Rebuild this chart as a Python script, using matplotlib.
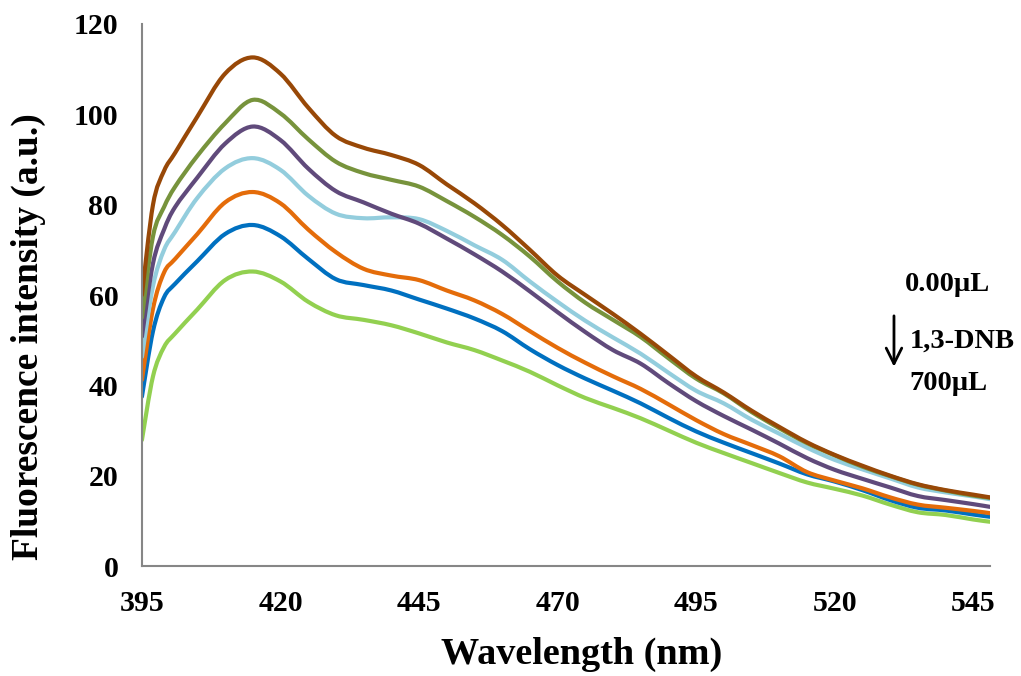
import matplotlib
matplotlib.use('Agg')
from matplotlib import pyplot as plt
from matplotlib.path import Path
from matplotlib.patches import PathPatch

wavelength = [395, 397, 399, 401, 405, 410, 415, 420, 425, 430, 435, 440, 445,
              450, 455, 460, 465, 470, 475, 480, 485, 490, 495, 500, 505, 510,
              515, 520, 525, 530, 535, 540, 545, 548]

# series from 0.00 uL (top) down to 700 uL (bottom)
s_brown = [60, 80, 87.5, 91.5, 99.5, 109, 112.6, 109, 101.5, 95.2, 92.6, 91, 88.8,
           84.5, 80.3, 75.5, 70, 64.3, 60, 55.8, 51.4, 46.7, 42, 38.4, 34.4, 30.8,
           27.4, 24.6, 22.2, 20.0, 18.1, 16.8, 15.8, 15.2]
s_olive = [55, 73, 79.5, 84, 90.8, 98, 103.2, 100.2, 94.5, 89.5, 87, 85.5, 84,
           80.8, 77.3, 73.3, 68.5, 63, 58.3, 54.5, 50.7, 46, 41.5, 38.2, 34.1, 30.5,
           27.2, 24.5, 22.0, 19.9, 18.0, 16.7, 15.6, 15.1]
s_purple = [50.8, 67, 74.5, 79.5, 86, 93.5, 97.3, 94.3, 88, 83, 80.5, 78, 75.8,
            72.5, 69, 65.2, 60.8, 56.2, 51.8, 47.8, 44.8, 40.5, 36.5, 33.2, 30.2, 27.1,
            23.9, 21.3, 19.3, 17.4, 15.5, 14.6, 13.7, 13.1]
s_lightblue = [46.3, 62, 70, 74, 81.5, 88, 90.3, 87.7, 82, 78, 77, 77.2, 76.8,
               74.2, 71, 67.8, 63, 58.5, 54.3, 50.6, 47, 42.8, 38.8, 36, 32.4, 29.3,
               26.2, 23.5, 21.4, 19.4, 17.4, 16.3, 15.4, 14.8]
s_orange = [41.2, 57, 65, 68, 73.5, 80.5, 82.8, 80.3, 74.5, 69.5, 65.8, 64.3, 63.3,
            61, 58.8, 55.8, 52, 48.3, 45, 42, 39.2, 35.8, 32.3, 29.2, 26.8, 24.3,
            20.8, 18.9, 17.2, 15.2, 13.6, 12.9, 12.2, 11.7]
s_blue = [37.5, 52, 59.5, 62.5, 67.5, 73.5, 75.5, 73, 68, 63.5, 62.2, 61, 59,
          57, 54.8, 52, 48, 44.5, 41.5, 38.8, 36, 32.8, 29.8, 27.3, 25, 22.7,
          20.3, 18.7, 16.8, 14.6, 12.9, 12.3, 11.4, 10.9]
s_lightgreen = [27.9, 42, 48.5, 51.5, 56.8, 63.3, 65.2, 63, 58.5, 55.5, 54.5, 53.3, 51.5,
                49.5, 47.8, 45.5, 43, 40, 37.2, 35, 32.7, 30, 27.3, 25, 22.8, 20.6,
                18.5, 17.1, 15.6, 13.6, 11.9, 11.3, 10.3, 9.8]

series = [s_brown, s_olive, s_purple, s_lightblue, s_orange, s_blue, s_lightgreen]
colors = ['#984807', '#77933C', '#604A7B', '#93CDDD', '#E46C0A', '#0070C0', '#92D050']

x_ticks = [395, 420, 445, 470, 495, 520, 545]
y_ticks = [0, 20, 40, 60, 80, 100, 120]


def smooth_path(xs, ys):
    # Excel style smoothed line: bezier segments through every data point
    pts = list(zip(xs, ys))
    verts = [pts[0]]
    codes = [Path.MOVETO]
    n = len(pts)
    for i in range(n - 1):
        p0 = pts[max(i - 1, 0)]
        p1 = pts[i]
        p2 = pts[i + 1]
        p3 = pts[min(i + 2, n - 1)]
        c1 = (p1[0] + (p2[0] - p0[0]) / 6, p1[1] + (p2[1] - p0[1]) / 6)
        c2 = (p2[0] - (p3[0] - p1[0]) / 6, p2[1] - (p3[1] - p1[1]) / 6)
        verts += [c1, c2, p2]
        codes += [Path.CURVE4] * 3
    return Path(verts, codes)


plt.rcParams['font.family'] = ['Liberation Serif', 'DejaVu Serif']
plt.rcParams['font.weight'] = 'bold'

fig = plt.figure(figsize=(10.21, 6.76), dpi=100)
ax = fig.add_axes([0.139, 0.1627, 0.8305, 0.8018])

# bottom curve first so the upper ones sit on top
for s, c in zip(reversed(series), reversed(colors)):
    ax.add_patch(PathPatch(smooth_path(wavelength, s), fill=False, edgecolor=c,
                           linewidth=3, capstyle='round', joinstyle='round'))

ax.set_xlim(395, 548)
ax.set_ylim(0, 120)
ax.set_xticks(x_ticks)
ax.set_yticks(y_ticks)
ax.tick_params(length=0, labelsize=21.5)
ax.tick_params(axis='x', pad=17)
ax.tick_params(axis='y', pad=17)
for lab in ax.get_xticklabels() + ax.get_yticklabels():
    lab.set_fontweight('bold')

for side in ['top', 'right']:
    ax.spines[side].set_visible(False)
for side in ['left', 'bottom']:
    ax.spines[side].set_color('#868686')
    ax.spines[side].set_linewidth(1.5)

ax.set_xlabel('Wavelength (nm)', fontsize=27.5, fontweight='bold')
ax.xaxis.set_label_coords(0.518, -0.131)
ax.set_ylabel('Fluorescence intensity (a.u.)', fontsize=27, fontweight='bold')
ax.yaxis.set_label_coords(-0.113, 0.424)

ax.text(540.3, 62.4, '0.00\u00b5L', fontsize=20.5, fontweight='bold', ha='center', va='center')
ax.text(543.0, 49.7, '1,3-DNB', fontsize=20.5, fontweight='bold', ha='center', va='center')
ax.text(540.5, 40.5, '700\u00b5L', fontsize=20.5, fontweight='bold', ha='center', va='center')
ax.annotate('', xy=(530.7, 43.5), xytext=(530.7, 56),
            arrowprops=dict(arrowstyle='->', color='black', lw=2, mutation_scale=28),
            annotation_clip=False)

fig.savefig('out.png', dpi=100)
